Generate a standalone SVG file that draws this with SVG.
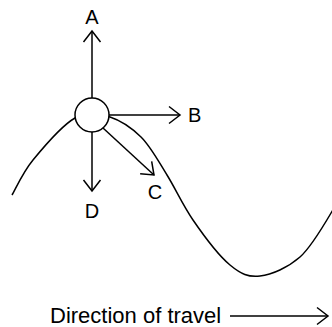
<svg xmlns="http://www.w3.org/2000/svg" width="332" height="327" viewBox="0 0 332 327">
<style>
.ln{fill:none;stroke:#000;stroke-width:1.5}
.lbl{font-family:"Liberation Sans",Arial,sans-serif;font-size:20px;fill:#000}
</style>
<defs>
<marker id="arr" markerUnits="userSpaceOnUse" viewBox="-1 -10 14 20" refX="11" refY="0" markerWidth="14" markerHeight="20" orient="auto" overflow="visible">
<path d="M0,-8.5 L11,0 L0,8.5" fill="none" stroke="#000" stroke-width="1.5"/>
</marker>
</defs>
<rect width="332" height="327" fill="#fff"/>
<g id="wave">
<path class="ln" d="M12,195 C15.5,189.2 22.5,172.8 33,160 C43.5,147.2 62.2,125.2 75,118 C87.8,110.8 98.7,113.3 110,117 C121.3,120.7 131.5,127.7 141,137 C150.5,146.3 158.7,161.7 167,175 C175.3,188.3 182.5,204.7 193,220 C203.5,235.3 218.8,255.7 230,265 C241.2,274.3 248.3,277.3 260,276 C271.7,274.7 288,267.5 300,257 C312,246.5 326.7,220.3 334,208"/>
</g>
<g id="ball">
<circle cx="92" cy="115" r="17" fill="#fff" stroke="#000" stroke-width="1.5"/>
</g>
<g id="connectors">
<line class="ln" x1="92" y1="98" x2="92" y2="31" marker-end="url(#arr)"/>
<line class="ln" x1="109" y1="115" x2="180" y2="115" marker-end="url(#arr)"/>
<line class="ln" x1="103" y1="128" x2="154" y2="175" marker-end="url(#arr)"/>
<line class="ln" x1="92" y1="132" x2="92" y2="191" marker-end="url(#arr)"/>
<line class="ln" x1="230" y1="316" x2="328" y2="316" marker-end="url(#arr)"/>
</g>
<g id="label-A"><text class="lbl" x="92" y="24" text-anchor="middle">A</text></g>
<g id="label-B"><text class="lbl" x="188" y="122">B</text></g>
<g id="label-C"><text class="lbl" x="155" y="199" text-anchor="middle">C</text></g>
<g id="label-D"><text class="lbl" x="92" y="218" text-anchor="middle">D</text></g>
<g id="label-direction"><text class="lbl" x="50" y="323" style="font-size:22px">Direction of travel</text></g>
</svg>
